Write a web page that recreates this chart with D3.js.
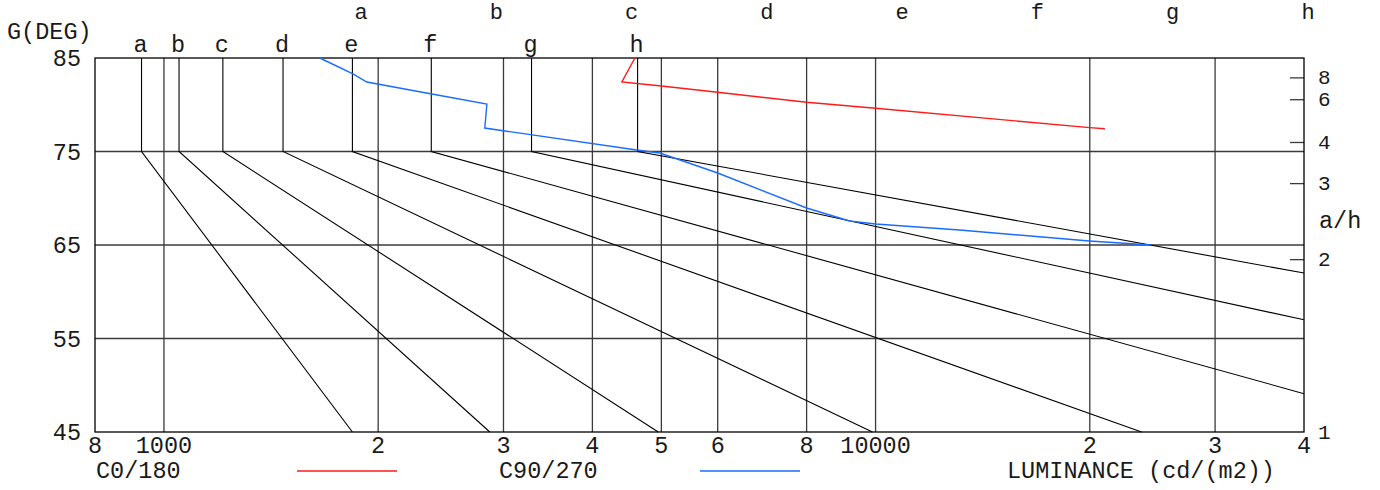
<!DOCTYPE html>
<html>
<head>
<meta charset="utf-8">
<script src="https://cdn.jsdelivr.net/npm/d3@7"></script>
<style>
  html, body { margin: 0; padding: 0; background: #fff; }
  svg { display: block; }
  text { font-family: "Liberation Mono", "Courier New", monospace; font-size: 23.5px; fill: #1a1a1a; }
</style>
</head>
<body>
<svg id="chart" width="1380" height="490"></svg>
<script>
// ---- data ----
const curveLabels = ["a", "b", "c", "d", "e", "f", "g", "h"];
const curveLum    = [930, 1050, 1210, 1470, 1840, 2375, 3285, 4630];   // vertical part, 85..75 deg
const curveEndLum = [1840, 2870, 4950, 9900, 23650, 40000, 40000, 40000];
const curveEndDeg = [45, 45, 45, 45, 45, 49.1, 57.0, 62.0];
const kneeDeg = 75;
const topDeg = 85;

const topRowLabels = ["a", "b", "c", "d", "e", "f", "g", "h"];

const xTickValues = [800, 1000, 2000, 3000, 4000, 5000, 6000, 8000, 10000, 20000, 30000, 40000];
const xTickLabels = ["8", "1000", "2", "3", "4", "5", "6", "8", "10000", "2", "3", "4"];
const gridLum = [1000, 2000, 3000, 4000, 5000, 6000, 8000, 10000, 20000, 30000];

const yTickValues = [45, 55, 65, 75, 85];
const gridDeg = [55, 65, 75];

const ahTicks = [1, 2, 3, 4, 6, 8];

const c0Lum = [4590, 4400, 5000, 6000, 8000, 10000, 20000, 21000];
const c0Deg = [85, 82.43, 82.0, 81.33, 80.26, 79.62, 77.55, 77.44];

const c90Lum = [1656, 1843, 1928, 2379, 2843, 2824, 4616, 4974, 6000, 8000, 9194, 10000, 13123, 19975, 24414];
const c90Deg = [85, 83.29, 82.43, 81.15, 80.08, 77.51, 75.16, 74.84, 72.70, 68.96, 67.57, 67.25, 66.60, 65.43, 65.0];

// ---- scales ----
const x = d3.scaleLog().domain([800, 40000]).range([95, 1304]);
const y = d3.scaleLinear().domain([45, 85]).range([432, 58]);
const xTop = d3.scalePoint().domain(topRowLabels).range([361, 1308]);

const svg = d3.select("#chart");
const plot = svg.append("g");

// grid
plot.selectAll("line.vgrid").data(gridLum).enter().append("line")
  .attr("x1", d => x(d)).attr("x2", d => x(d))
  .attr("y1", y(85)).attr("y2", y(45))
  .attr("stroke", "#3a3a3a").attr("stroke-width", 1.3);
plot.selectAll("line.hgrid").data(gridDeg).enter().append("line")
  .attr("x1", x(800)).attr("x2", x(40000))
  .attr("y1", d => y(d)).attr("y2", d => y(d))
  .attr("stroke", "#3a3a3a").attr("stroke-width", 1.3);

// right a/h ticks (inside)
plot.selectAll("line.ah").data(ahTicks.filter(d => d > 1)).enter().append("line")
  .attr("x1", x(40000) - 14).attr("x2", x(40000))
  .attr("y1", d => y(Math.atan(d) * 180 / Math.PI))
  .attr("y2", d => y(Math.atan(d) * 180 / Math.PI))
  .attr("stroke", "#3a3a3a").attr("stroke-width", 1.3);

// curves a..h
const curveLine = d3.line().x(d => x(d[0])).y(d => y(d[1]));
curveLabels.forEach((lab, i) => {
  const pts = [[curveLum[i], topDeg], [curveLum[i], kneeDeg], [curveEndLum[i], curveEndDeg[i]]];
  plot.append("path").attr("d", curveLine(pts))
    .attr("fill", "none").attr("stroke", "#000").attr("stroke-width", 1.1);
});

// border
plot.append("rect")
  .attr("x", x(800)).attr("y", y(85))
  .attr("width", x(40000) - x(800)).attr("height", y(45) - y(85))
  .attr("fill", "none").attr("stroke", "#000").attr("stroke-width", 1.3);

// measured lines
const c0 = c0Lum.map((v, i) => [v, c0Deg[i]]);
const c90 = c90Lum.map((v, i) => [v, c90Deg[i]]);
plot.append("path").attr("d", curveLine(c0))
  .attr("fill", "none").attr("stroke", "#ff1a1a").attr("stroke-width", 1.4);
plot.append("path").attr("d", curveLine(c90))
  .attr("fill", "none").attr("stroke", "#1a6cff").attr("stroke-width", 1.4);

// left axis labels
svg.selectAll("text.ylab").data(yTickValues).enter().append("text")
  .attr("x", 81).attr("y", d => y(d) + 2)
  .attr("text-anchor", "end").attr("dominant-baseline", "middle")
  .text(d => d);
svg.append("text").attr("x", 7).attr("y", 39).text("G(DEG)");

// bottom axis labels
svg.selectAll("text.xlab").data(xTickValues).enter().append("text")
  .attr("x", d => x(d)).attr("y", 453)
  .attr("text-anchor", "middle")
  .text((d, i) => xTickLabels[i]);

// right axis labels
svg.selectAll("text.ahlab").data(ahTicks).enter().append("text")
  .attr("x", 1318).attr("y", d => y(Math.atan(d) * 180 / Math.PI) + 1)
  .attr("dominant-baseline", "middle")
  .style("font-size", "21px")
  .text(d => d);
svg.append("text").attr("x", 1319).attr("y", 228).text("a/h");

// curve labels (second row)
svg.selectAll("text.clab").data(curveLabels).enter().append("text")
  .attr("x", (d, i) => x(curveLum[i]) - 1).attr("y", 52)
  .attr("text-anchor", "middle")
  .text(d => d);

// top row labels
svg.selectAll("text.tlab").data(topRowLabels).enter().append("text")
  .attr("x", d => xTop(d)).attr("y", 19)
  .attr("text-anchor", "middle")
  .style("font-size", "22px")
  .text(d => d);

// legend
svg.append("text").attr("x", 96).attr("y", 478).text("C0/180");
svg.append("line").attr("x1", 297).attr("x2", 397).attr("y1", 471).attr("y2", 471)
  .attr("stroke", "#ff1a1a").attr("stroke-width", 1.4);
svg.append("text").attr("x", 499).attr("y", 478).text("C90/270");
svg.append("line").attr("x1", 700).attr("x2", 800).attr("y1", 471).attr("y2", 471)
  .attr("stroke", "#1a6cff").attr("stroke-width", 1.4);
svg.append("text").attr("x", 1007).attr("y", 478).text("LUMINANCE (cd/(m2))");
</script>
</body>
</html>
